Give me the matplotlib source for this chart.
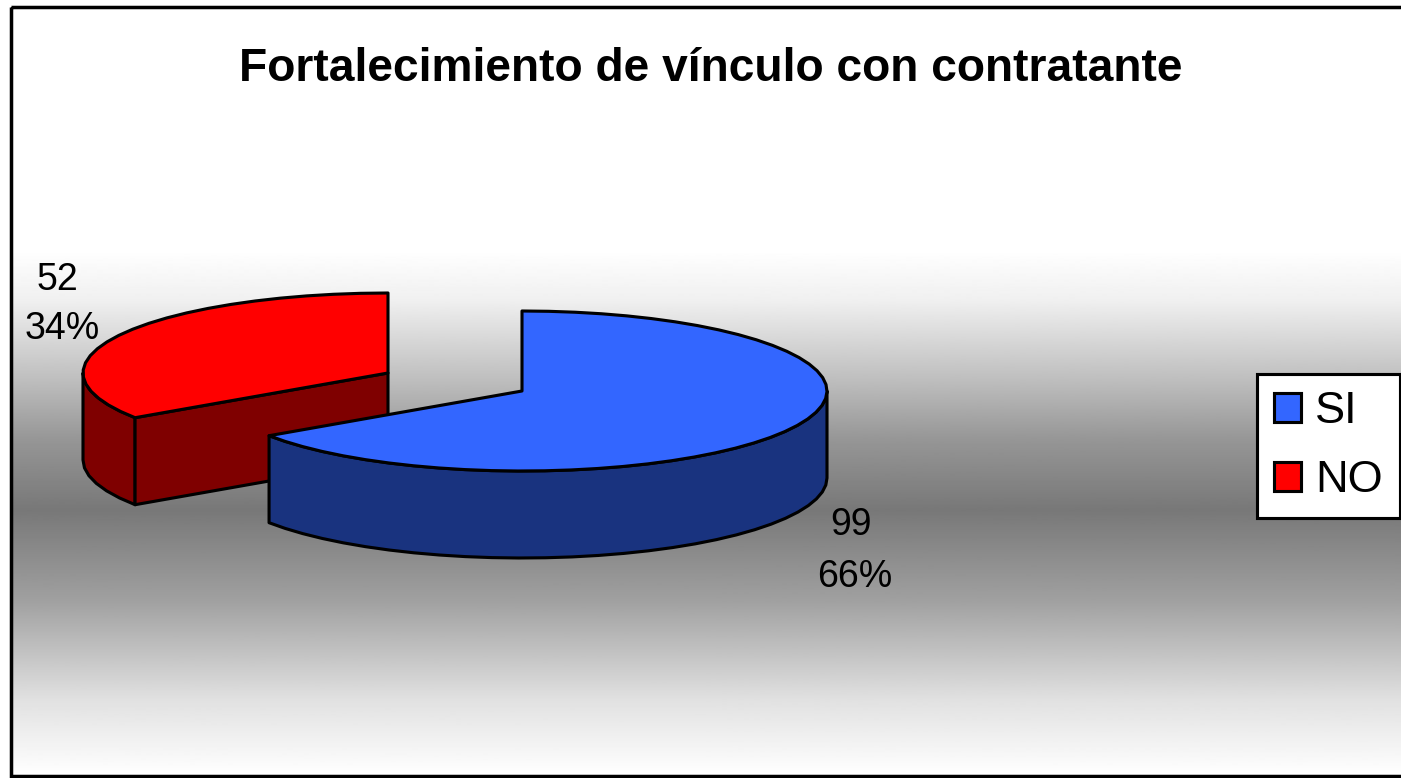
import numpy as np
import matplotlib
matplotlib.use('Agg')
import matplotlib.pyplot as plt
from matplotlib.patches import Polygon, Patch, Rectangle

plt.rcParams['font.family'] = ['Liberation Sans', 'DejaVu Sans']

title = 'Fortalecimiento de vínculo con contratante'
labels = ['SI', 'NO']
values = [99, 52]
top_colors = ['#3366FF', '#FF0000']
side_colors = ['#19337F', '#7F0000']

# pie layout in pixels
rx = 305
ry = 80
depth = 87
centers = [(522, 391), (388, 373)]
count_pos = [(851, 525), (57, 280)]
pct_pos = [(855, 577), (62, 329)]
edge = 3.1 / 1.389


def rim(cx, cy, a0, a1):
    # a is clockwise from the top of the pie, in degrees
    n = max(2, int(abs(a1 - a0) / 5) + 1)
    a = np.radians(np.linspace(a0, a1, n))
    return np.column_stack([cx + rx * np.sin(a), cy - ry * np.cos(a)])


def draw_slice(ax, cx, cy, a0, a1, top, side, z):
    # walls first, only the part of the rim facing the viewer
    lo = max(a0, 90)
    hi = min(a1, 270)
    if hi > lo:
        r = rim(cx, cy, lo, hi)
        wall = np.vstack([r, r[::-1] + [0, depth]])
        ax.add_patch(Polygon(wall, fc=side, ec='black', lw=edge, joinstyle='round', zorder=z))
    # cut face on the starting radius of the left slice
    if 180 < a0 < 270:
        p = rim(cx, cy, a0, a0)[0]
        face = np.array([p, (cx, cy), (cx, cy + depth), p + [0, depth]])
        ax.add_patch(Polygon(face, fc=side, ec='black', lw=edge, joinstyle='round', zorder=z))
    r = rim(cx, cy, a0, a1)
    ax.add_patch(Polygon(np.vstack([[cx, cy], r]), fc=top, ec='black', lw=edge, joinstyle='round', zorder=z + 0.5))


fig = plt.figure(figsize=(14.01, 7.78), dpi=100)
ax = fig.add_axes([0, 0, 1, 1])

# grey band of the plot background
grad_y = [7, 250, 300, 380, 440, 510, 600, 700, 775]
grad_v = [255, 255, 240, 190, 150, 120, 160, 225, 255]
yy = np.arange(7, 777)
shade = np.interp(yy, grad_y, grad_v)[:, None]
ax.imshow(shade, cmap='gray', vmin=0, vmax=255, extent=(11, 1401, 776, 7), aspect='auto', zorder=0)
ax.add_patch(Rectangle((11, 7), 1400, 769, fc='none', ec='black', lw=3.5 / 1.389, zorder=1))

total = sum(values)
angles = np.cumsum([0] + [v / total * 360 for v in values])

# far slice goes first, the blue one sits on top of it
for i in [1, 0]:
    draw_slice(ax, centers[i][0], centers[i][1], angles[i], angles[i + 1],
               top_colors[i], side_colors[i], 2 + (1 - i) * 2)
    ax.text(count_pos[i][0], count_pos[i][1], '%d' % values[i],
            fontsize=27, ha='center', va='center', zorder=8)
    ax.text(pct_pos[i][0], pct_pos[i][1], '%d%%' % round(values[i] / total * 100),
            fontsize=27, ha='center', va='center', zorder=8)

ax.text(711, 69, title, fontsize=33.2, fontweight='bold', ha='center', va='center', zorder=8)

handles = [Patch(fc=c, ec='black', lw=edge) for c in top_colors]
leg = ax.legend(handles, labels, loc='upper left', bbox_to_anchor=(1257, 374),
                bbox_transform=ax.transData, fontsize=32.5, frameon=True, fancybox=False,
                framealpha=1, edgecolor='black', borderaxespad=0, borderpad=0.38,
                handlelength=0.6, handleheight=0.6, handletextpad=0.3, labelspacing=0.62)
leg.get_frame().set_linewidth(edge)
leg.set_zorder(9)

ax.set_xlim(0, 1401)
ax.set_ylim(778, 0)
ax.axis('off')
fig.savefig('out.png', dpi=100)
